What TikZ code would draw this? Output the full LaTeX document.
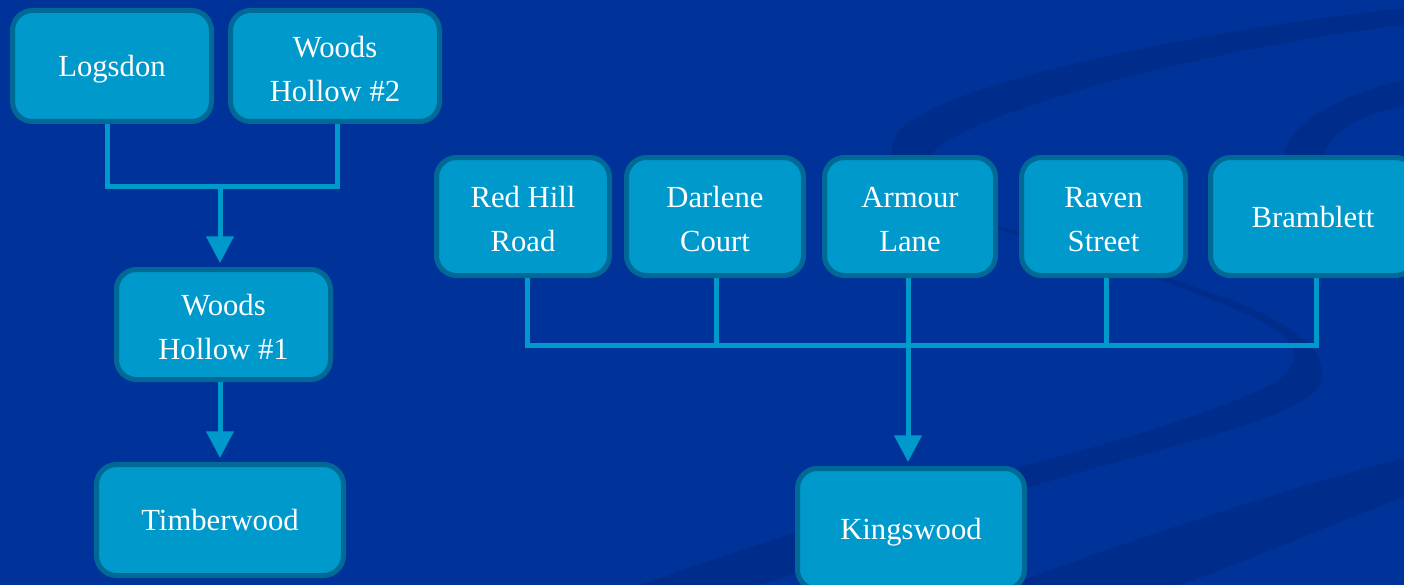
\documentclass[tikz,border=0pt]{standalone}
\usepackage{fontspec}
\setmainfont{Liberation Serif}
\usetikzlibrary{arrows.meta,calc}
\definecolor{bgblue}{RGB}{0,51,153}
\definecolor{swoosh}{RGB}{0,45,140}
\definecolor{boxfill}{RGB}{0,153,204}
\definecolor{boxedge}{RGB}{0,105,150}
\definecolor{linkc}{RGB}{0,153,204}
\tikzset{
  stepbox/.style={draw=boxedge, fill=boxfill, line width=3.75pt, rounded corners=15pt,
    text=white, align=center, font=\fontsize{23}{33}\selectfont, inner sep=0pt, text depth=0pt},
  twoline/.style={text height=53pt},
  link/.style={draw=linkc, line width=3.75pt},
  arr/.style={link, -{Triangle[width=20pt,length=20pt]}, shorten >=3pt},
}
\begin{document}
\begin{tikzpicture}[x=0.75pt,y=-0.75pt]
\path[use as bounding box, fill=bgblue] (0,0) rectangle (1404,585);
\begin{scope}
\clip (0,0) rectangle (1404,585);
% background swooshes
\fill[swoosh] (1404,8) .. controls (1200,30) and (960,80) .. (905,125)
  .. controls (875,150) and (890,200) .. (1000,230)
  .. controls (1120,265) and (1260,310) .. (1288,340)
  .. controls (1300,355) and (1295,375) .. (1260,390)
  .. controls (1180,425) and (1100,445) .. (1027,465)
  .. controls (900,500) and (750,545) .. (640,585)
  -- (760,585)
  .. controls (850,555) and (950,515) .. (1027,488)
  .. controls (1150,450) and (1300,420) .. (1320,385)
  .. controls (1332,350) and (1290,325) .. (1240,303)
  .. controls (1150,270) and (1050,240) .. (1000,226)
  .. controls (930,205) and (915,180) .. (935,150)
  .. controls (980,110) and (1200,50) .. (1404,25) -- cycle;
\fill[swoosh] (1404,80) .. controls (1340,95) and (1295,120) .. (1285,150)
  -- (1285,200) -- (1330,200) -- (1325,150)
  .. controls (1340,125) and (1370,112) .. (1404,106) -- cycle;
\fill[swoosh] (1404,458) .. controls (1280,490) and (1130,540) .. (1010,585)
  -- (1180,585) .. controls (1250,560) and (1330,525) .. (1404,497) -- cycle;

% boxes
\node[stepbox, minimum width=149.25pt, minimum height=83.25pt] (logsdon) at (112,66) {Logsdon};
\node[stepbox, twoline, minimum width=156.75pt, minimum height=83.25pt] (woods2) at (335,66) {Woods\\Hollow \#2};
\node[stepbox, twoline, minimum width=160.5pt, minimum height=82.5pt] (woods1) at (223.5,324.5) {Woods\\Hollow \#1};
\node[stepbox, minimum width=185.25pt, minimum height=83.25pt] (timber) at (220,520) {Timberwood};
\node[stepbox, twoline, minimum width=129.75pt, minimum height=88.5pt] (redhill) at (523,216.5) {Red Hill\\Road};
\node[stepbox, twoline, minimum width=132.75pt, minimum height=88.5pt] (darlene) at (715,216.5) {Darlene\\Court};
\node[stepbox, twoline, minimum width=128.25pt, minimum height=88.5pt] (armour) at (910,216.5) {Armour\\Lane};
\node[stepbox, twoline, minimum width=123pt, minimum height=88.5pt] (raven) at (1103.5,216.5) {Raven\\Street};
\node[stepbox, minimum width=153.75pt, minimum height=88.5pt] (bramblett) at (1313,216.5) {Bramblett};
\node[stepbox, minimum width=170.25pt, minimum height=90.75pt] (kings) at (911,529) {Kingswood};

% left connectors
\coordinate (j1) at (220,186);
\draw[link] ($(logsdon.south)+(-5,0)$) |- ($(j1)+(-1,0)$) -| ($(woods2.south)+(2,0)$);
\draw[arr] (j1) -- (j1 |- woods1.north);
\draw[arr] ($(woods1.south)+(-3.5,0)$) -- ($(timber.north)+(0,0)$);

% right connectors
\coordinate (j2) at (908,345);
\draw[link] ($(redhill.south)+(4,0)$) |- ($(bramblett.south |- j2)+(3,0)$) -- ($(bramblett.south)+(3,0)$);
\draw[link] ($(darlene.south)+(1,0)$) -- ($(darlene.south |- j2)+(1,0)$);
\draw[link] ($(raven.south)+(2.5,0)$) -- ($(raven.south |- j2)+(2.5,0)$);
\draw[arr] ($(armour.south)+(-2,0)$) -- ($(armour.south |- kings.north)+(-2,0)$);
\end{scope}
\end{tikzpicture}
\end{document}
